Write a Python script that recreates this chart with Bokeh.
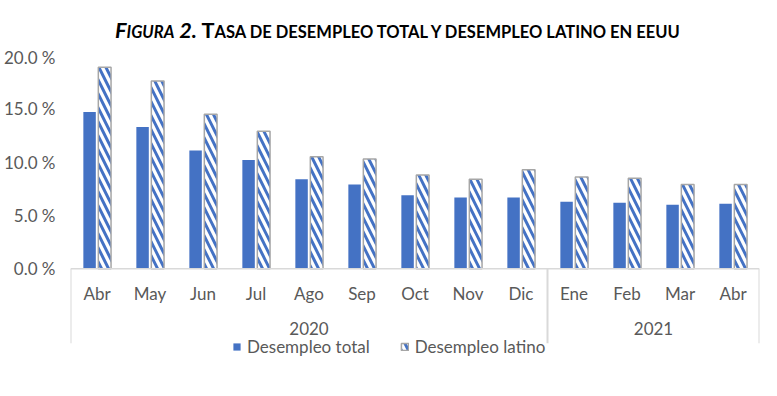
from bokeh.plotting import figure
from bokeh.models import (FactorRange, Range1d, ColumnDataSource, FixedTicker,
                          PrintfTickFormatter, Span, Legend, LegendItem, Div)
from bokeh.transform import dodge
from bokeh.layouts import column
from bokeh.core.properties import value
from bokeh.embed import file_html
from bokeh.resources import INLINE

# ---- data ----
months = ["Abr", "May", "Jun", "Jul", "Ago", "Sep", "Oct", "Nov", "Dic",
          "Ene", "Feb", "Mar", "Abr"]
years = ["2020"] * 9 + ["2021"] * 4
year_groups = ["2020", "2021"]
total = [14.7, 13.3, 11.1, 10.2, 8.4, 7.9, 6.9, 6.7, 6.7, 6.3, 6.2, 6.0, 6.1]
latino = [18.9, 17.6, 14.5, 12.9, 10.5, 10.3, 8.8, 8.4, 9.3, 8.6, 8.5, 7.9, 7.9]
y_ticks = [0, 5, 10, 15, 20]

BLUE = "#4472C4"
GREY_TXT = "#595959"
LINE = "#D9D9D9"
FONT = "Lato"

factors = list(zip(years, months))
src = ColumnDataSource(data=dict(x=factors, month=months, total=total, latino=latino))

title_html = (
    '<div style="padding-left:110px;padding-top:10px;text-align:left;'
    'font-family:Lato;font-weight:bold;color:#000;white-space:nowrap;">'
    '<span style="font-style:italic;"><span style="font-size:21.7px">F</span>'
    '<span style="font-size:16.5px">IGURA</span><span style="font-size:21.7px"> 2.</span></span>'
    '<span style="font-size:21.7px"> T</span><span style="font-size:16.5px">ASA DE DESEMPLEO TOTAL Y '
    'DESEMPLEO LATINO EN EEUU</span></div>'
)
title = Div(text=title_html, width=761, height=36)

px_per_unit = 10.6
y_bottom = -102 / px_per_unit      # frame bottom (legend area)
box_bottom = -74 / px_per_unit     # bottom of the category box lines

p = figure(x_range=FactorRange(*factors, group_padding=0, factor_padding=0, range_padding=0),
           y_range=Range1d(y_bottom, 20),
           width=761, height=336, output_backend="svg", toolbar_location=None,
           min_border_left=63, min_border_right=2, min_border_top=9, min_border_bottom=11)
p.outline_line_color = None
p.xgrid.visible = False
p.ygrid.visible = False
p.xaxis.visible = False

p.yaxis.ticker = FixedTicker(ticks=y_ticks)
p.yaxis.formatter = PrintfTickFormatter(format="%.1f %%")
p.yaxis.axis_line_color = None
p.yaxis.major_tick_line_color = None
p.yaxis.minor_tick_line_color = None
p.yaxis.major_label_standoff = 9
p.yaxis.major_label_text_font = FONT
p.yaxis.major_label_text_font_size = "17px"
p.yaxis.major_label_text_color = GREY_TXT

r_total = p.vbar(x=dodge("x", -0.14, range=p.x_range), top="total", width=0.235, source=src,
                 fill_color=BLUE, line_color=None)
r_lat = p.vbar(x=dodge("x", 0.145, range=p.x_range), top="latino", width=0.24, source=src,
               fill_color="white", line_color="#A6A6A6", line_width=1.5,
               hatch_pattern="left_diagonal_line", hatch_color=BLUE,
               hatch_weight=3, hatch_scale=14)

# axis box lines
p.add_layout(Span(location=0, dimension="width", line_color=LINE, line_width=1.5))
sep_left = ColumnDataSource(data=dict(x=[("2020", "Abr"), ("2021", "Ene")]))
sep_right = ColumnDataSource(data=dict(x=[("2021", "Abr")]))
for s, off in ((sep_left, -0.5), (sep_right, 0.5)):
    p.segment(x0=dodge("x", off, range=p.x_range), x1=dodge("x", off, range=p.x_range),
              y0=0, y1=box_bottom, source=s, line_color=LINE, line_width=2)

# category labels
p.text(x="x", y=0, text="month", source=src, y_offset=25, text_align="center",
       text_baseline="middle", text_font=value(FONT), text_font_size="17px",
       text_color=GREY_TXT)
ysrc = ColumnDataSource(data=dict(x=year_groups, t=year_groups))
p.text(x="x", y=0, text="t", source=ysrc, y_offset=60, text_align="center",
       text_baseline="middle", text_font=value(FONT), text_font_size="17px",
       text_color=GREY_TXT)

legend = Legend(items=[LegendItem(label="Desempleo total", renderers=[r_total]),
                       LegendItem(label="Desempleo latino", renderers=[r_lat])],
                orientation="horizontal", location=(162, 14),
                label_text_font=FONT, label_text_font_size="17px",
                label_text_color=GREY_TXT, glyph_width=9, glyph_height=9,
                spacing=30, margin=0, padding=2, border_line_color=None,
                background_fill_alpha=0, label_standoff=6)
p.add_layout(legend)

layout = column(title, p, spacing=0)
open("out.html", "w").write(file_html(layout, INLINE))
